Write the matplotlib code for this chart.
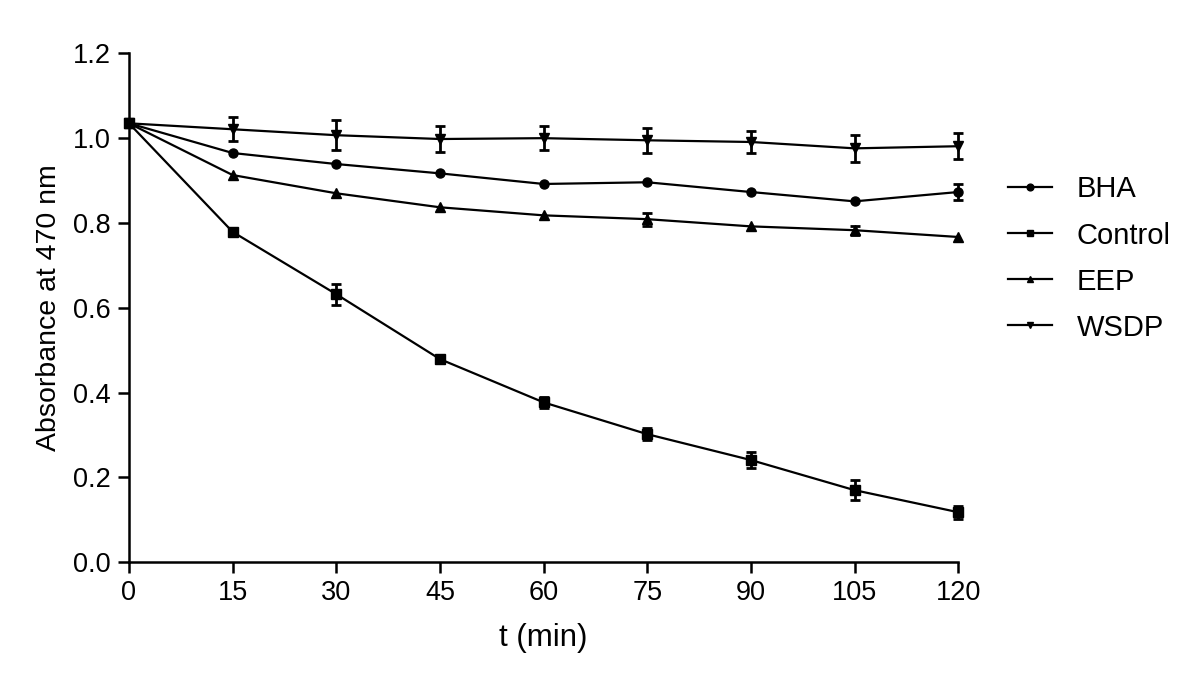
import numpy as np
import matplotlib
matplotlib.use('Agg')
import matplotlib.pyplot as plt

plt.rcParams['font.family'] = ['Liberation Sans', 'DejaVu Sans']

t = [0, 15, 30, 45, 60, 75, 90, 105, 120]

# mean absorbance at 470 nm and error (SD); nan = bar hidden by marker
nan = np.nan
bha = [1.035, 0.965, 0.939, 0.917, 0.892, 0.896, 0.873, 0.851, 0.873]
bha_err = [nan, nan, nan, nan, nan, nan, nan, nan, 0.018]

control = [1.035, 0.779, 0.632, 0.479, 0.377, 0.302, 0.241, 0.170, 0.118]
control_err = [nan, nan, 0.025, 0.008, 0.013, 0.014, 0.018, 0.024, 0.015]

eep = [1.035, 0.913, 0.870, 0.837, 0.818, 0.809, 0.792, 0.783, 0.767]
eep_err = [nan, nan, nan, nan, nan, 0.015, nan, 0.011, nan]

wsdp = [1.035, 1.021, 1.007, 0.998, 1.000, 0.995, 0.991, 0.976, 0.981]
wsdp_err = [nan, 0.028, 0.035, 0.030, 0.028, 0.030, 0.027, 0.032, 0.031]

series = [
    ('BHA', bha, bha_err, 'o', 6.5),
    ('Control', control, control_err, 's', 6.5),
    ('EEP', eep, eep_err, '^', 6.5),
    ('WSDP', wsdp, wsdp_err, 'v', 6.5),
]

fig = plt.figure(figsize=(12, 6.84), dpi=100)
ax = fig.add_axes([0.1075, 0.178, 0.691, 0.744])

for name, y, err, mk, ms in series:
    ax.errorbar(t, y, yerr=err, color='black', marker=mk, markersize=ms,
                linewidth=1.6, elinewidth=2, capsize=3.8, capthick=2,
                label=name, clip_on=False)

ax.set_xlim(0, 120)
ax.set_ylim(0, 1.2)
ax.set_xticks(t)
ax.set_yticks(np.arange(0, 1.21, 0.2))
ax.set_yticklabels(['%.1f' % v for v in np.arange(0, 1.21, 0.2)])
ax.spines['top'].set_visible(False)
ax.spines['right'].set_visible(False)
for s in ['left', 'bottom']:
    ax.spines[s].set_linewidth(1.8)
ax.tick_params(direction='out', length=8, width=1.8, labelsize=19.5, pad=5)
ax.set_xlabel('t (min)', fontsize=22.5, labelpad=12)
ax.set_ylabel('Absorbance at 470 nm', fontsize=20.5, labelpad=8)

handles, labels = ax.get_legend_handles_labels()
handles = [h[0] for h in handles]
fig.legend(handles, labels, loc='center left', bbox_to_anchor=(1008 / 1200, 0.622),
           frameon=False, fontsize=21, handlelength=1.5, labelspacing=0.62,
           handletextpad=0.85, markerscale=0.75, borderpad=0, borderaxespad=0)

fig.savefig('out.png', dpi=100)
